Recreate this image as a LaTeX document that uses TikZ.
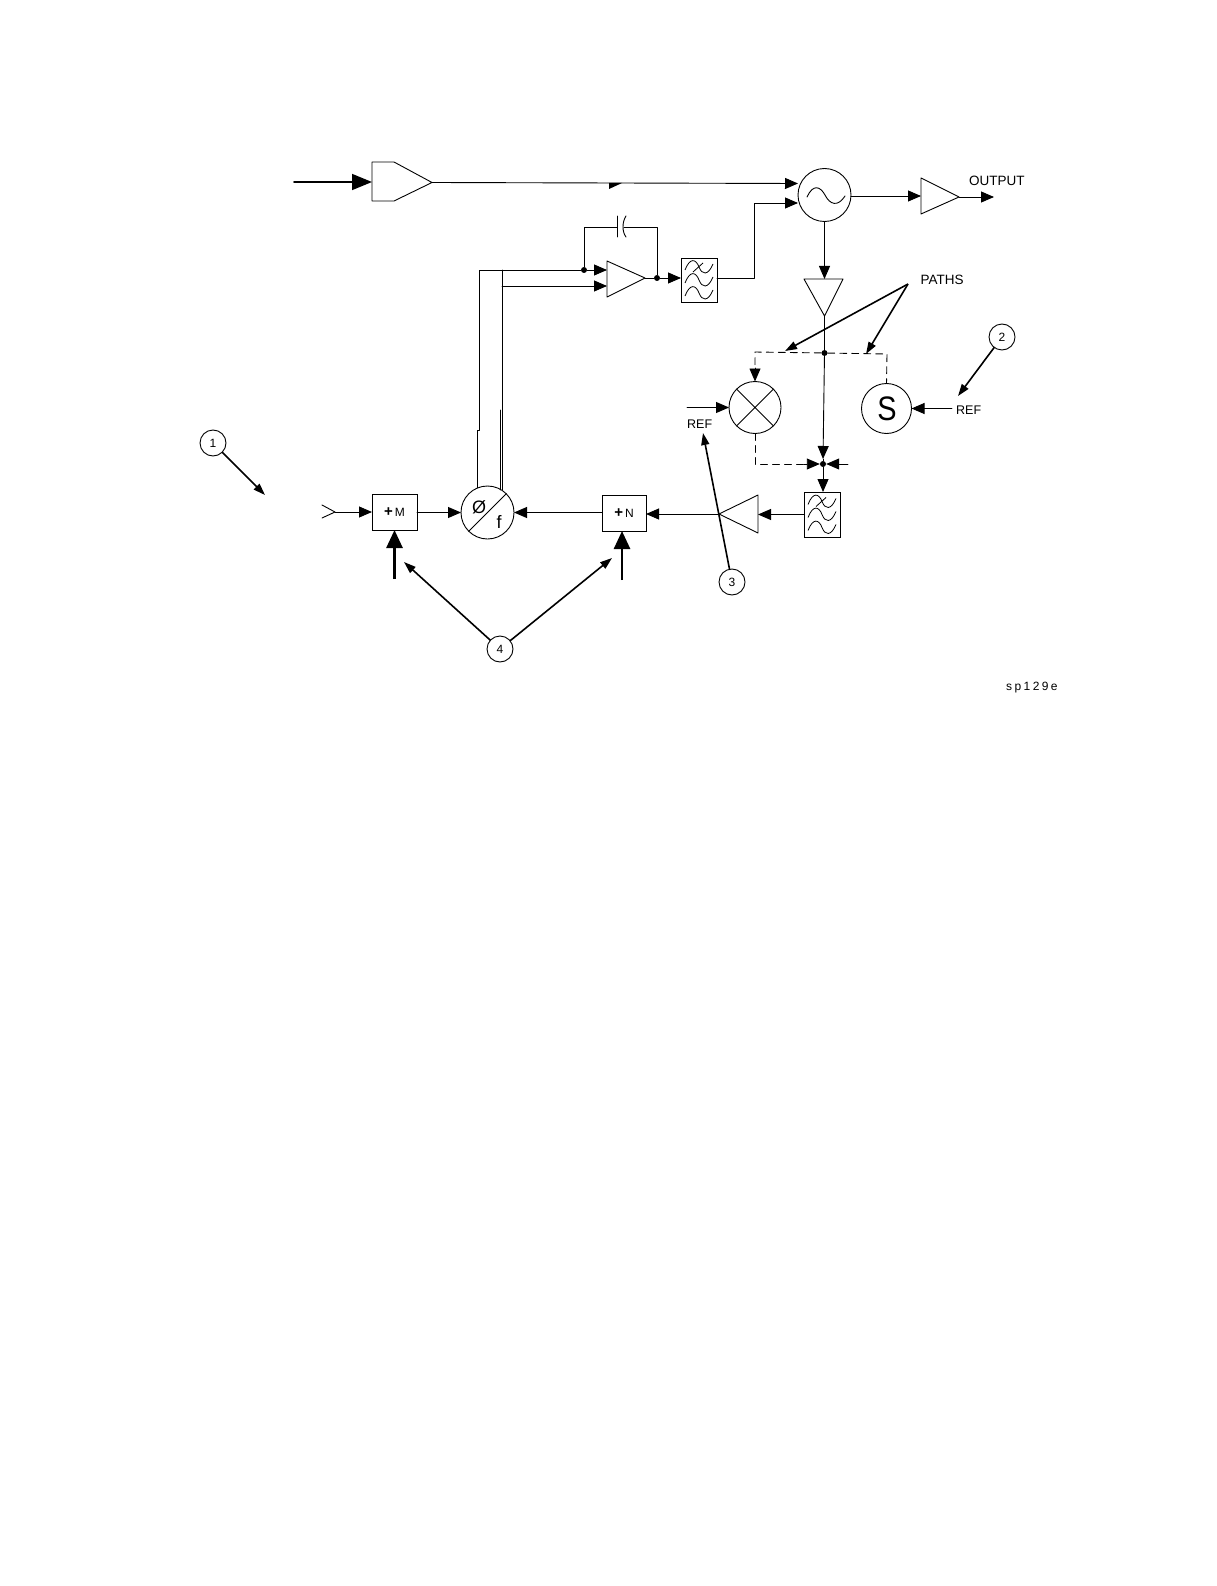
\documentclass[tikz,border=0pt]{standalone}
\usepackage{fontspec}
\setmainfont{Liberation Sans}
\newfontfamily\spfont[LetterSpace=20]{Liberation Sans}
\usetikzlibrary{arrows.meta}
\tikzset{
  wire/.style={line width=0.9pt,line cap=round,line join=round},
  sig/.style={wire,-{Triangle[length=13pt,width=11pt]}},
  note/.style={line width=1.6pt,-{Triangle[length=12pt,width=8pt]}},
  heavy/.style={line width=2.6pt,-{Triangle[length=18pt,width=16pt]}},
  dash1/.style={wire,dash pattern=on 7pt off 5pt},
  round1/.style={circle,draw,line width=0.9pt,inner sep=0pt,outer sep=0pt},
  callout/.style={circle,draw,line width=0.9pt,inner sep=0pt,outer sep=0pt,minimum size=26pt,font=\fontsize{12}{12}\selectfont},
  blockbox/.style={rectangle,draw,line width=0.9pt,inner sep=0pt,outer sep=0pt,font=\fontsize{12}{12}\selectfont},
  lbl/.style={inner sep=0pt,font=\fontsize{13.5}{13.5}\selectfont},
  dot/.style={circle,fill=black,inner sep=0pt,minimum size=6pt},
  filterwaves/.pic={
    \foreach \yy in {-13,0,13}{
      \draw[line width=0.8pt] (-14,\yy+3) .. controls (-9,\yy-10) and (-3,\yy-8) .. (0,\yy) .. controls (3,\yy+8) and (9,\yy+9) .. (14,\yy-3);
    }
    \draw[line width=0.8pt] (-6,-8) -- (4,-17);
  }
}
\begin{document}
\begin{tikzpicture}[x=1pt,y=-1pt]
\useasboundingbox (0,0) rectangle (1216,1586);

% --- nodes ---
\node[round1,minimum size=53pt] (mix) at (824.5,195) {};
\node[round1,minimum size=52pt] (mult) at (755,407.5) {};
\node[round1,minimum size=50pt] (sum) at (886.5,408.5) {};
\node[inner sep=0pt,xscale=0.85,font=\fontsize{34}{34}\selectfont] (sumS) at (887,408.5) {S};
\node[round1,minimum size=53pt] (pd) at (487.5,512.5) {};
\node[blockbox,minimum width=36pt,minimum height=44pt] (lpa) at (699,280) {};
\node[blockbox,minimum width=36pt,minimum height=45pt] (lpb) at (822,514.5) {};
\node[blockbox,minimum width=45pt,minimum height=36pt] (divm) at (394.5,512) {\textbf{\fontsize{15}{15}\selectfont +}\,M};
\node[blockbox,minimum width=44pt,minimum height=36pt] (divn) at (624,513) {\textbf{\fontsize{15}{15}\selectfont +}\,N};
\node[dot] (dotl) at (584,270) {};
\node[dot] (dotr) at (657,278) {};
\node[dot] (dott) at (824.5,353) {};
\node[dot] (dotb) at (823,464) {};

\node[callout] (c1) at (213,443) {1};
\node[callout] (c2) at (1002,337) {2};
\node[callout] (c3) at (732,582) {3};
\node[callout] (c4) at (500,649) {4};

\node[lbl,anchor=west] (out) at (969,181) {OUTPUT};
\node[lbl,anchor=west] (paths) at (920.5,280) {PATHS};
\node[lbl,anchor=west,font=\fontsize{12.5}{12.5}\selectfont] (refa) at (956,410) {REF};
\node[lbl,anchor=west,font=\fontsize{12.5}{12.5}\selectfont] (refb) at (687,424) {REF};
\node[lbl,anchor=west,font=\fontsize{12}{12}\spfont] (tag) at (1006,688) {sp129e};

% --- amplifiers ---
\coordinate (a1i) at (372,182); \coordinate (a1o) at (432,182.5);
\draw[wire] (372,162) -- (394,162) -- (a1o) -- (394,201) -- (372,201) -- cycle;
\coordinate (a2ia) at (607,270); \coordinate (a2ib) at (607,286); \coordinate (a2o) at (645,278);
\draw[wire] (607,261) -- (607,297) -- (a2o) -- cycle;
\coordinate (a3i) at (921,196); \coordinate (a3o) at (959,197);
\draw[wire] (921,178) -- (921,214) -- (a3o) -- cycle;
\coordinate (a4i) at (824.5,279); \coordinate (a4o) at (824.5,316);
\draw[wire] (804,279) -- (843,279) -- (a4o) -- cycle;
\coordinate (a5i) at (758,514.5); \coordinate (a5o) at (719,514);
\draw[wire] (758,495) -- (758,533) -- (a5o) -- cycle;

% --- symbols inside nodes ---
\draw[wire] (807,197) .. controls (813,184) and (820,186) .. (825,195) .. controls (830,205) and (838,207) .. (845,196);
\pic at (lpa) {filterwaves};
\pic at (lpb) {filterwaves};
\draw[wire] (mult.45) -- (mult.225) (mult.135) -- (mult.315);
\draw[wire] (pd.225) -- (pd.45);
\node[inner sep=0pt,font=\fontsize{18}{18}\selectfont] (phi) at (479,507) {Ø};
\node[inner sep=0pt,font=\fontsize{18}{18}\selectfont] (fr) at (499,522) {f};

% --- top path ---
\coordinate (inp) at (294,182);
\draw[wire,line width=1.6pt,-{Triangle[length=20pt,width=16pt]}] (inp) -- (a1i);
\coordinate (mia) at (798,183.5);
\draw[sig] (a1o) -- (mia);
\fill (609,183) -- (622,183) -- (609,189) -- cycle;
\coordinate (mib) at (798,203);
\draw[sig] (lpa.east |- 0,278) -| (754,203) -- (mib);
\draw[sig] (mix.east |- 0,196) -- (a3i);
\coordinate (oute) at (994,197);
\draw[sig] (a3o) -- (oute);
\draw[sig] (mix.south) -- (a4i);

% --- integrator ---
\coordinate (bl) at (479,270); \coordinate (br) at (502,270);
\coordinate (br2) at (502,286);
\draw[wire] (477,488) -- (477,430) -- (479,430) -- (bl) -- (dotl);
\draw[wire] (502,490) -- (br2);
\draw[wire] (500.5,490) -- (500.5,410);
\draw[wire] (br) -- (br2);
\draw[sig] (dotl) -- (a2ia);
\draw[sig] (br2) -- (a2ib);
\coordinate (capa) at (617,227); \coordinate (capb) at (624,227);
\draw[wire] (dotl) -- (584,227) -- (capa);
\draw[wire] (617,216) -- (617,237);
\draw[wire] (626,216) .. controls (622,222) and (622,232) .. (626,237);
\draw[wire] (capb) -- (657,227) -- (dotr);
\draw[wire] (a2o) -- (dotr);
\draw[sig] (dotr) -- (lpa.west |- dotr);

% --- right part ---
\draw[wire] (a4o) -- (dott);
\coordinate (lb) at (823,459);
\draw[sig] (dott) -- (lb);
\draw[wire] (lb) -- (dotb);
\draw[sig] (dotb) -- (lpb.north -| dotb);
\draw[dash1] (dott) -- (755,352) -- (755,368);
\draw[sig] (755,368) -- (mult.north);
\draw[dash1] (dott) -- (887,354) -- (sum.north);
\draw[dash1] (mult.south) -- (755,464) -- (806,464);
\draw[sig] (804,464) -- (dotb);
\coordinate (rr) at (848,464);
\draw[sig] (rr) -- (dotb);
\coordinate (ra) at (952,408.5);
\draw[sig] (ra) -- (sum.east);
\coordinate (rb) at (687,407.5);
\draw[sig] (rb) -- (mult.west);

% --- lower path ---
\draw[sig] (lpb.west) -- (a5i);
\draw[sig] (a5o) -- (divn.east |- a5o);
\draw[sig] (divn.west |- pd.east) -- (pd.east);
\draw[sig] (divm.east |- pd.west) -- (pd.west);
\coordinate (fork) at (335,512);
\draw[wire] (322,505) -- (fork) -- (322,518);
\draw[sig] (fork) -- (divm.west);
\coordinate (hm) at (394.5,579);
\coordinate (hn) at (622,580);
\draw[heavy] (hm) -- (divm.south);
\draw[heavy] (hn) -- (divn.south -| hn);

% --- call-out arrows ---
\coordinate (t1) at (265,495);
\draw[note] (c1) -- (t1);
\coordinate (t2) at (958,396);
\draw[note] (c2) -- (t2);
\coordinate (t3) at (703,433);
\draw[note] (c3) -- (t3);
\coordinate (t4a) at (404,562); \coordinate (t4b) at (612,558);
\draw[note] (c4) -- (t4a);
\draw[note] (c4) -- (t4b);
\coordinate (papex) at (908,284);
\coordinate (pa) at (785,351); \coordinate (pb) at (866,354);
\draw[note] (papex) -- (pa);
\draw[note] (papex) -- (pb);
\end{tikzpicture}
\end{document}
